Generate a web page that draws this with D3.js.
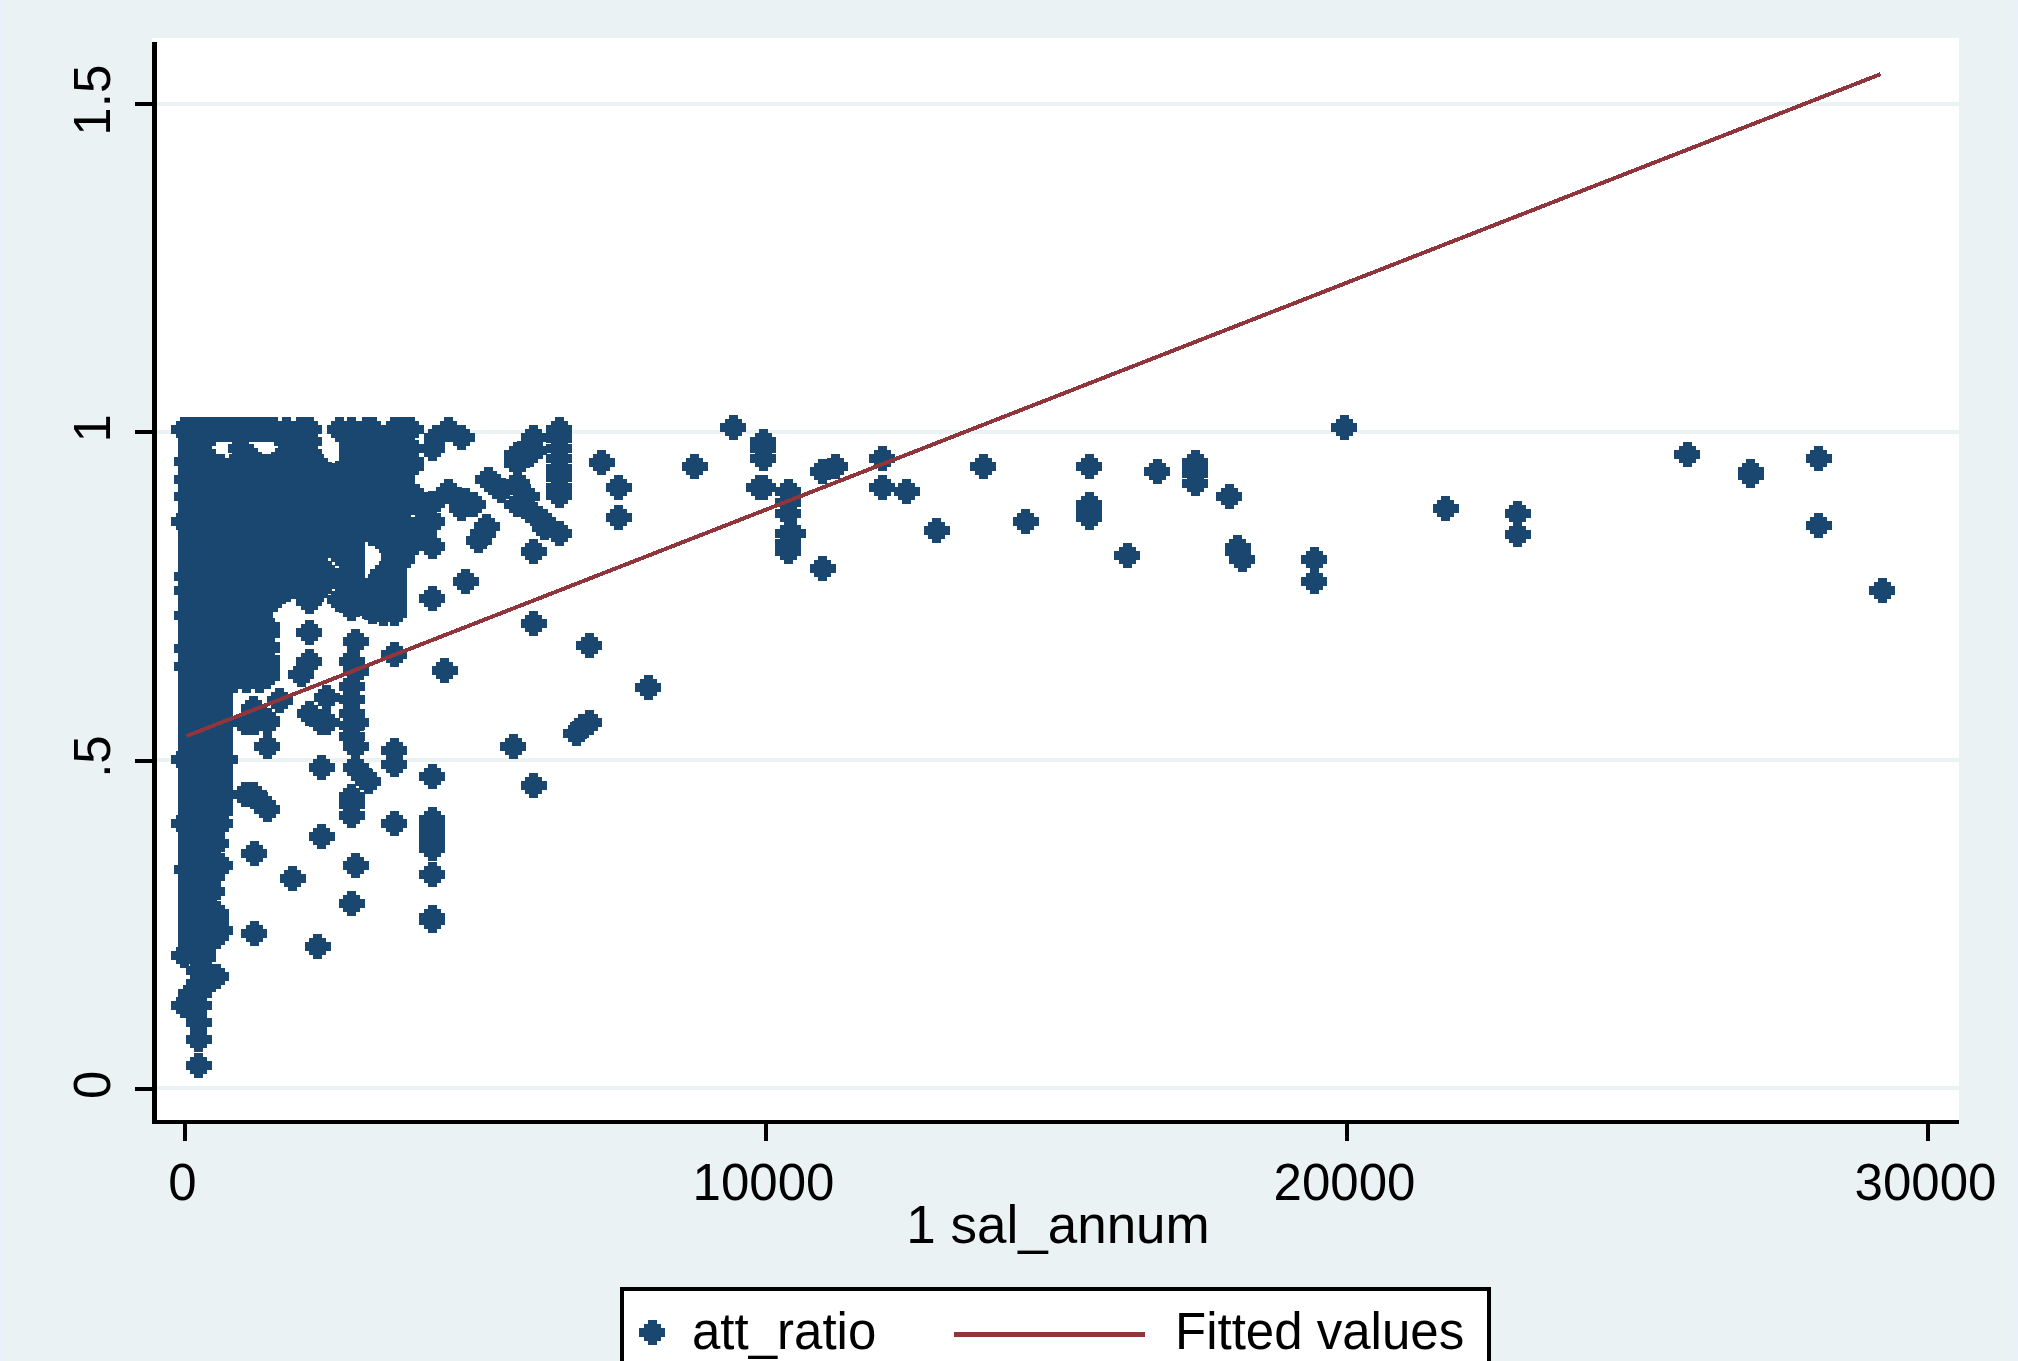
<!DOCTYPE html>
<html>
<head>
<meta charset="utf-8">
<script src="https://cdn.jsdelivr.net/npm/d3@7"></script>
<style>
  html, body { margin: 0; padding: 0; background: #eaf2f3; }
  text { font-family: "Liberation Sans", Arial, sans-serif; fill: #000; }
</style>
</head>
<body>
<svg id="chart" width="2018" height="1361"></svg>
<script>
// ---------------------------------------------------------------
//    DATA
// ---------------------------------------------------------------
const xTicks = [0, 10000, 20000, 30000];
const yTicks = [0, 0.5, 1, 1.5];
const yTickLabels = ["0", ".5", "1", "1.5"];
const xTitle = "1 sal_annum";
const legendLabels = ["att_ratio", "Fitted values"];

// salary columns, each one lines up with a list in attRatios
const salAnnum = [
  0, 52, 121, 190, 258, 333, 396, 482, 551, 626,
  700, 849, 1079, 1308, 1423, 1538, 1767, 1997, 2157, 2456,
  2890, 3030, 3247, 3615, 3907, 3988, 4120, 4274, 4349, 4561,
  4779, 4837, 4980, 5077, 5152, 5210, 5238, 5382, 5468, 5732,
  5898, 5955, 6024, 6185, 6213, 6460,
  // low part of the cloud, separate markers
  1050, 1062, 1200, 1205, 1360, 1429, 1652, 1870, 2014, 2157,
  2168, 2306, 2370, 2456, 2886, 2960, 3098, 3172, 3615, 4274,
  4492, 4853, 5663, 6024, 6752, 6862, 6971, 7190, 7487, 7992,
  8795, 9455, 9897, 9966, 10401, 10476, 10993, 11205, 12014, 12444,
  12960, 13757, 14492, 15583, 16236, 16752, 17406, 17992, 18141, 18210,
  19455, 19966, 21715, 22960, 25875, 26970, 28141, 29231
];
const attRatios = [
  [1.004, .863, .501, .404, .203, .126],
  [.955, .927, .901, .779, .759, .721, .670, .642, .333],
  [1.004, .985, .967, .947, .927, .906, .886, .863, .845, .825, .805, .784, .764, .744, .724, .703, .683, .663, .642, .622, .602, .581, .561, .541, .521, .500, .479, .460, .441, .420, .400, .381, .360, .340, .320, .301, .280, .260, .241, .221, .213, .145, .126],
  [1.004, .985, .967, .126],
  [.200, .180, .160, .145, .126, .101, .075, .035],
  [1.004, .985, .967, .947, .927, .906, .886, .863, .845, .825, .805, .784, .764, .744, .724, .703, .683, .663, .642, .622, .602, .581, .561, .541, .521, .500, .480, .460, .440, .421, .401, .381, .361, .341, .320, .300, .287, .262, .240, .220, .200, .170],
  [.358, .340, .307, .221, .160],
  [.388, .322, .340, .300],
  [.373, .267, .254, .231, .170],
  [1.004, .947, .927, .906, .886, .863, .845, .825, .805, .784, .764, .744, .724, .703, .683, .663, .642, .622, .602, .581, .561, .541, .520, .501, .480, .460, .440, .421, .404, .340, .241],
  [.501],
  [1.004, .947, .927, .906, .886, .863, .845, .825, .805, .784, .764, .744, .724, .703, .683, .663, .642, .621],
  [1.004, .947, .927, .906, .886, .863, .845, .825, .805, .784, .764, .744, .724, .703, .683, .663, .642, .622],
  [1.004, .947, .927, .906, .886, .863, .845, .825, .805, .784, .764, .744, .724, .703, .683, .663, .642, .622],
  [1.004, .947, .927, .906, .886, .863, .845, .825, .805, .784, .764, .744, .703, .670, .642, .627],
  [1.004, .947, .927, .906, .886, .863, .845, .825, .805, .784, .764, .744],
  [1.004, .985, .947, .927, .906, .886, .863, .845, .825, .805, .784, .760],
  [1.004, .985, .947, .927, .906, .886, .863, .845, .825, .805, .784, .760],
  [1.004, .985, .967, .947, .927, .906, .886, .863, .845, .825, .805, .784, .764, .741],
  [.934, .895, .875, .838, .784],
  [1.004, .985, .967, .947, .927, .906, .886, .863, .845, .825, .805, .784, .764, .744, .731],
  [.985, .967, .947, .927, .906, .886, .863, .845, .764, .744],
  [1.004, .985, .967, .947, .927, .906, .886, .863, .845, .764, .744, .726],
  [1.004, .985, .967, .947, .927, .906, .886, .863, .845, .825, .805, .784, .764, .744, .724],
  [1.004, .975, .955, .947, .845, .825],
  [.901, .896],
  [.881, .863, .845],
  [.975, .891, .863, .825],
  [.992],
  [1.004, .909],
  [.992, .884],
  [.896],
  [.889],
  [.835],
  [.845],
  [.856],
  [.927],
  [.917],
  [.911],
  [.965, .952, .922, .889],
  [.901],
  [.980, .965, .881],
  [.992, .972, .818],
  [.863],
  [.855],
  [1.004, .990, .975, .960, .945, .930, .915, .903, .845],
  // low part of the cloud
  [.558],
  [.447],
  [.579, .447],
  [.558, .358, .236],
  [.432],
  [.561, .558, .520, .424],
  [.591],
  [.320],
  [.630],
  [.695, .650],
  [.571],
  [.216],
  [.558, .488, .384],
  [.596, .558],
  [.650, .612, .592, .571, .553, .536, .444, .432, .416, .281],
  [.680, .635, .558, .520, .488, .339],
  [.475],
  [.468],
  [.661, .514, .494, .404],
  [.746, .475, .410, .400, .390, .380, .372, .365, .326, .260, .255],
  [.636],
  [.772],
  [.520],
  [.708, .462],
  [.541],
  [.551],
  [.675, .558],
  [.954],
  [.915, .870],
  [.611],
  [.947],
  [1.006],
  [.915],
  [.985, .975, .960, .915],
  [.909, .893, .876, .845, .830, .818],
  [.845],
  [.940, .792],
  [.947],
  [.960, .915],
  [.909],
  [.850],
  [.947],
  [.863],
  [.947, .889, .878, .870],
  [.811],
  [.940],
  [.953, .947, .936, .922],
  [.902],
  [.824, .818],
  [.805],
  [.805, .772],
  [1.006],
  [.883],
  [.876, .844],
  [.966],
  [.940, .934],
  [.960, .857],
  [.759]
];

// overlapping markers inside the solid part of the cloud, best guess
const denseSal = [
  121, 333, 626, 981, 1200, 1423, 2157, 2330, 2520, 2680,
  2890, 3144, 3431, 3615, 3760, 180, 430, 560, 760, 1650, 1880
];
const denseRatios = [
  [.995, .976, .957, .937, .917, .896, .875, .854, .835, .815, .795, .774, .754, .734, .714, .693, .673, .653, .632, .612, .592, .571, .551, .531, .511, .490, .470, .450, .430, .410, .390, .370, .350, .330, .310, .290, .270, .250, .231],
  [.511, .490, .470, .450, .430, .410, .390, .370, .350, .330, .310, .270, .250, .231, .210, .180],
  [.612, .592, .571, .551, .531, .511, .490, .470, .450, .430],
  [1.004, .975],
  [1.004, .957, .917, .875, .835, .795, .754, .714, .673, .632],
  [.917, .875, .835, .795, .754, .693, .673, .653, .632],
  [.957, .937, .917, .896, .875, .854, .835, .815, .795, .774, .754],
  [.947, .927, .915, .891, .873, .855, .835, .815, .795, .774, .760],
  [.934, .922, .906, .891, .873, .845, .835],
  [1.004, .937, .917, .896, .875, .854, .835, .815, .774, .745],
  [.995, .976, .957, .937, .917, .896, .875, .854, .835, .815, .795, .774, .754, .734],
  [1.004, .976, .957, .937, .917, .896, .875, .854, .754, .734],
  [.976, .957, .937, .917, .896, .875, .854, .835, .784, .764, .744, .724],
  [.995, .976, .957, .937, .917, .896, .875, .854, .835, .815, .795, .774, .754, .734],
  [1.004, .985, .967, .947, .927, .906, .886, .863, .845, .825, .805],
  [1.004],
  [1.004],
  [1.004],
  [1.004],
  [.957, .917, .875, .835, .795, .760],
  [.957, .917, .875, .835, .795, .765]
];

const fittedSal = [46, 29200];
const fittedRatio = [0.5367, 1.545];

// ---------------------------------------------------------------
//    COLORS AND LAYOUT
// ---------------------------------------------------------------
const navy = "#1a476f";
const maroon = "#90353b";
const backdrop = "#eaf2f3";

const svg = d3.select("#chart");
const x = d3.scaleLinear().domain([0, 30000]).range([184, 1927]);
const y = d3.scaleLinear().domain([0, 1.5]).range([1088.3, 103.7]);

// Stata style diamond, blocky because the original was blown up
const blockDiamond = {
  draw(ctx) {
    const steps = [[-12.5, 4.5], [-8.5, 8.5], [-4.5, 13], [4.5, 8.5], [8.5, 4.5], [12.5, 0]];
    ctx.moveTo(-4.5, -12.5);
    steps.slice(0, 5).forEach((s, i) => {
      ctx.lineTo(s[1], s[0]);
      ctx.lineTo(s[1], steps[i + 1][0]);
    });
    for (let i = 4; i >= 0; i--) {
      ctx.lineTo(-steps[i][1], steps[i + 1][0]);
      ctx.lineTo(-steps[i][1], steps[i][0]);
    }
    ctx.closePath();
  }
};
const marker = d3.symbol().type(blockDiamond);

// ---------------------------------------------------------------
//    BACKGROUND
// ---------------------------------------------------------------
svg.append("rect").attr("width", 2018).attr("height", 1361).attr("fill", backdrop);
svg.append("rect").attr("width", 4).attr("height", 1361).attr("fill", "#ebf1f8");
svg.append("rect").attr("x", 2014).attr("width", 4).attr("height", 1361).attr("fill", "#ebf1f8");
svg.append("rect").attr("x", 152).attr("y", 38).attr("width", 1807).attr("height", 1084).attr("fill", "#fff");

// grid lines
svg.append("g").selectAll("line").data(yTicks).join("line")
  .attr("x1", 152).attr("x2", 1959)
  .attr("y1", d => y(d)).attr("y2", d => y(d))
  .attr("stroke", backdrop).attr("stroke-width", 4)
  .attr("shape-rendering", "crispEdges");

// ---------------------------------------------------------------
//    MARKS
// ---------------------------------------------------------------
const points = salAnnum.concat(denseSal)
  .flatMap((s, i) => attRatios.concat(denseRatios)[i].map(r => ({ s: s, r: r })));

svg.append("g").selectAll("path").data(points).join("path")
  .attr("d", marker)
  .attr("transform", d => `translate(${x(d.s)},${y(d.r)})`)
  .attr("fill", navy)
  .attr("shape-rendering", "crispEdges");

const fitLine = d3.line().x(d => x(d[0])).y(d => y(d[1]));
svg.append("path")
  .attr("d", fitLine(d3.zip(fittedSal, fittedRatio)))
  .attr("fill", "none")
  .attr("stroke", maroon)
  .attr("stroke-width", 4)
  .attr("shape-rendering", "crispEdges");

// ---------------------------------------------------------------
//    AXES
// ---------------------------------------------------------------
const yAxis = svg.append("g")
  .attr("transform", "translate(154,0)")
  .call(d3.axisLeft(y).tickValues(yTicks).tickSize(19)
    .tickFormat((d, i) => yTickLabels[i]));
const xAxis = svg.append("g")
  .attr("transform", "translate(0,1122)")
  .call(d3.axisBottom(x).tickValues(xTicks).tickSize(19).tickFormat(d3.format("d")));

[yAxis, xAxis].forEach(a => {
  a.select(".domain").remove();
  a.attr("font-family", null).attr("font-size", null);
  a.selectAll("line").attr("stroke", "#000").attr("stroke-width", 4)
    .attr("shape-rendering", "crispEdges");
  a.selectAll("text").attr("font-size", 51).attr("fill", "#000");
});

yAxis.selectAll("text")
  .attr("x", null).attr("dy", null)
  .attr("text-anchor", "middle")
  .attr("transform", "translate(-44,-4) rotate(-90)");
xAxis.selectAll("text")
  .attr("y", null).attr("dy", null)
  .attr("transform", "translate(-2,78)");

// spines
svg.append("rect").attr("x", 152).attr("y", 42).attr("width", 5).attr("height", 1082).attr("fill", "#000");
svg.append("rect").attr("x", 152).attr("y", 1120).attr("width", 1807).attr("height", 4).attr("fill", "#000");

svg.append("text")
  .attr("x", 1058).attr("y", 1243)
  .attr("text-anchor", "middle").attr("font-size", 53)
  .text(xTitle);

// ---------------------------------------------------------------
//    LEGEND
// ---------------------------------------------------------------
const legend = svg.append("g");
legend.append("rect")
  .attr("x", 622).attr("y", 1289).attr("width", 867).attr("height", 100)
  .attr("fill", "#fff").attr("stroke", "#000").attr("stroke-width", 4)
  .attr("shape-rendering", "crispEdges");
legend.append("path")
  .attr("d", marker)
  .attr("transform", "translate(652,1332)")
  .attr("fill", navy)
  .attr("shape-rendering", "crispEdges");
legend.append("text").attr("x", 692).attr("y", 1349).attr("font-size", 51).text(legendLabels[0]);
legend.append("line")
  .attr("x1", 954).attr("x2", 1145).attr("y1", 1334).attr("y2", 1334)
  .attr("stroke", maroon).attr("stroke-width", 5)
  .attr("shape-rendering", "crispEdges");
legend.append("text").attr("x", 1175).attr("y", 1349).attr("font-size", 51).text(legendLabels[1]);
</script>
</body>
</html>
